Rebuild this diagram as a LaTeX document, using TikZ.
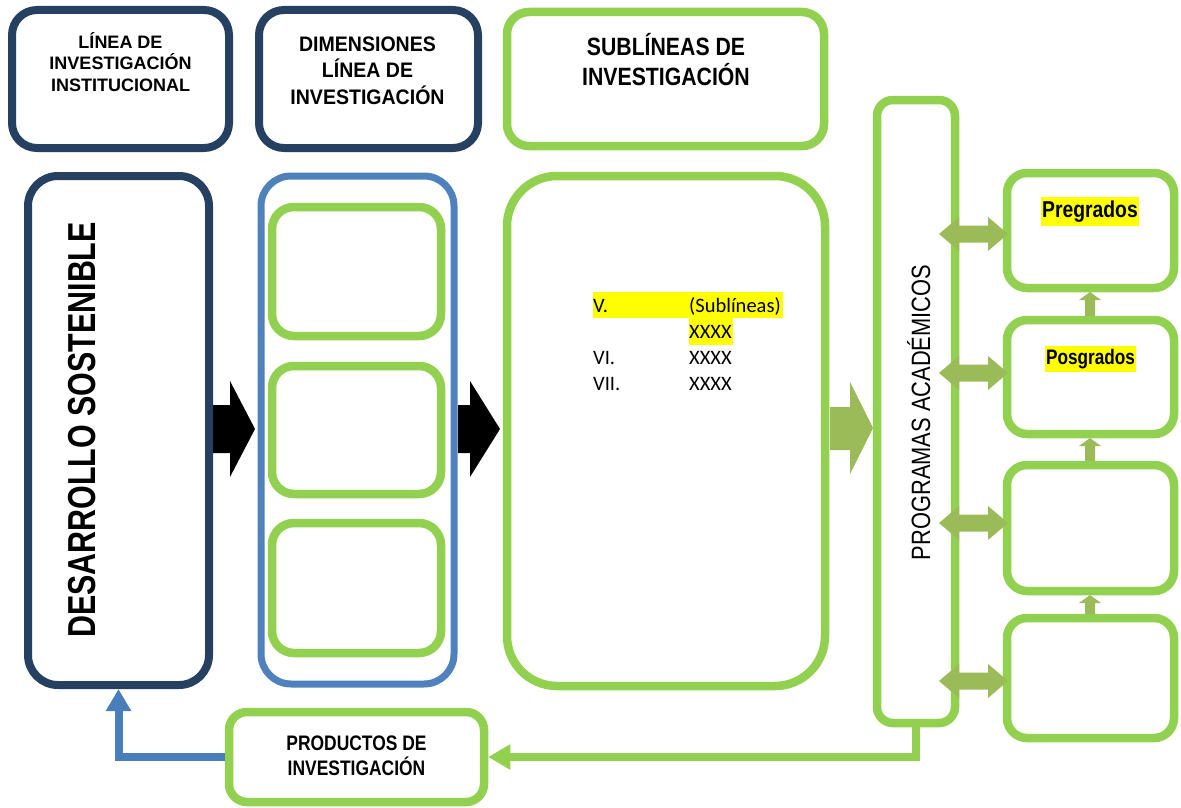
\documentclass[tikz,border=0pt]{standalone}
\usepackage{fontspec}
\setmainfont{Liberation Sans}
\newfontfamily\calfont{Carlito}
\usetikzlibrary{arrows.meta,calc}
\definecolor{navy}{RGB}{37,64,97}
\definecolor{bluebox}{RGB}{79,129,189}
\definecolor{greenbox}{RGB}{146,208,80}
\definecolor{olivearrow}{RGB}{155,187,89}
\definecolor{blueline}{RGB}{74,126,187}
\definecolor{hl}{RGB}{255,255,0}
\begin{document}
\begin{tikzpicture}[x=1pt,y=-1pt,
  box/.style={draw, fill=white, rectangle, inner sep=0pt},
  navybox/.style={box, draw=navy, line width=8pt},
  bluebx/.style={box, draw=bluebox, line width=7pt},
  greenbx/.style={box, draw=greenbox, line width=8.5pt},
  lbl/.style={align=center, inner sep=0pt, font=\bfseries},
  sublist/.style={anchor=base west, inner sep=0pt, font=\calfont\fontsize{20.5}{24}\selectfont},
  hlnode/.style={fill=hl, inner sep=0pt, font=\bfseries}
]
\useasboundingbox (0,0) rectangle (1181,808);

% top header boxes
\node[navybox, rounded corners=25pt, minimum width=217pt, minimum height=138pt] (hdrA) at (120.5,79) {};
\node[navybox, rounded corners=25pt, minimum width=219pt, minimum height=138pt] (hdrB) at (368.5,79) {};
\node[greenbx, rounded corners=22pt, minimum width=317pt, minimum height=134pt] (hdrC) at (665.5,79) {};

\node[lbl, font=\bfseries\fontsize{18}{21.5}\selectfont] (hdrAt) at (120.5,62) {LÍNEA DE\\INVESTIGACIÓN\\INSTITUCIONAL};
\node[lbl, xscale=0.93, font=\bfseries\fontsize{21}{26.5}\selectfont] (hdrBt) at (367.5,70.5) {DIMENSIONES\\LÍNEA DE\\INVESTIGACIÓN};
\node[lbl, xscale=0.85, font=\bfseries\fontsize{25}{30}\selectfont] (hdrCt) at (666,60) {SUBLÍNEAS DE\\INVESTIGACIÓN};

% main column boxes
\node[navybox, rounded corners=30pt, minimum width=181pt, minimum height=509pt] (des) at (118.5,430.5) {};
\node[rotate=90, anchor=base, inner sep=0pt, font=\bfseries\fontsize{39}{39}\selectfont] (dest) at (95,430) {\scalebox{0.78}[1]{DESARROLLO SOSTENIBLE}};

\node[bluebx, rounded corners=30pt, minimum width=193pt, minimum height=508pt] (dim) at (357.5,430) {};
\node[greenbx, rounded corners=22pt, minimum width=169pt, minimum height=129pt] (dimA) at (356.5,271.5) {};
\node[greenbx, rounded corners=22pt, minimum width=169pt, minimum height=128pt] (dimB) at (356.5,430) {};
\node[greenbx, rounded corners=22pt, minimum width=169pt, minimum height=130pt] (dimC) at (356.5,588) {};

\node[greenbx, rounded corners=50pt, minimum width=318pt, minimum height=510pt] (sub) at (666,431) {};
\fill[hl] (593,292) rectangle (783,318);
\fill[hl] (689,318) rectangle (733,345);
\node[sublist] (s1a) at (593,312) {V.};
\node[sublist] (s1b) at (689,312) {(Sublíneas)};
\node[sublist] (s1c) at (689,338) {XXXX};
\node[sublist] (s2a) at (593,364) {VI.};
\node[sublist] (s2b) at (689,364) {XXXX};
\node[sublist] (s3a) at (593,390) {VII.};
\node[sublist] (s3b) at (689,390) {XXXX};

\node[greenbx, rounded corners=16pt, minimum width=78pt, minimum height=623pt] (prog) at (916,411.5) {};
\node[rotate=90, anchor=base, inner sep=0pt, font=\fontsize{26.5}{26.5}\selectfont] (progt) at (930,412.5) {\scalebox{0.825}[1]{PROGRAMAS ACADÉMICOS}};

% right boxes
\node[greenbx, rounded corners=20pt, minimum width=167pt, minimum height=115pt] (r1) at (1090.5,230.5) {};
\node[greenbx, rounded corners=20pt, minimum width=167pt, minimum height=114pt] (r2) at (1090.5,377) {};
\node[greenbx, rounded corners=20pt, minimum width=167pt, minimum height=126pt] (r3) at (1090.5,528) {};
\node[greenbx, rounded corners=20pt, minimum width=167pt, minimum height=120pt] (r4) at (1090.5,678) {};
\node[hlnode, minimum width=98pt, minimum height=29pt, font=\bfseries\fontsize{23}{23}\selectfont] (pre) at (1090,211.5) {\scalebox{0.84}[1]{Pregrados}};
\node[hlnode, minimum width=91pt, minimum height=26pt, font=\bfseries\fontsize{21}{21}\selectfont] (pos) at (1090.5,359) {\scalebox{0.82}[1]{Posgrados}};

% productos
\node[greenbx, rounded corners=18pt, minimum width=255pt, minimum height=90pt] (prod) at (356.5,757) {};
\node[lbl, xscale=0.83, font=\bfseries\fontsize{21}{24.5}\selectfont] (prodt) at (356.5,756) {PRODUCTOS DE\\INVESTIGACIÓN};

% block arrows
\fill[black] (213,405) -- (230,405) -- (230,381) -- (255,429) -- (230,477) -- (230,453) -- (213,453) -- cycle;
\fill[black] (458,405) -- (470,405) -- (470,381) -- (500,429) -- (470,477) -- (470,453) -- (458,453) -- cycle;
\fill[olivearrow] (830,407) -- (850,407) -- (850,382) -- (873,428) -- (850,474) -- (850,450) -- (830,450) -- cycle;

\foreach \yy in {234,373,523,681}
  \fill[olivearrow] (939,\yy) -- (959,\yy-17) -- (959,\yy-8.5) -- (988,\yy-8.5) -- (988,\yy-17) -- (1008,\yy)
    -- (988,\yy+17) -- (988,\yy+8.5) -- (959,\yy+8.5) -- (959,\yy+17) -- cycle;

\foreach \tt/\bb in {292/316, 438/461, 595/614}
  \fill[olivearrow] (1085,\bb) -- (1085,\tt+8) -- (1079,\tt+8) -- (1090,\tt) -- (1101,\tt+8) -- (1095,\tt+8) -- (1095,\bb) -- cycle;

% connectors
\draw[greenbox, line width=8pt, -{Triangle[length=22pt,width=24pt]}] (prog.south) |- (prod.east);
\draw[blueline, line width=8pt, -{Triangle[length=22pt,width=24pt]}] (prod.west) -| (des.south);
\end{tikzpicture}
\end{document}
